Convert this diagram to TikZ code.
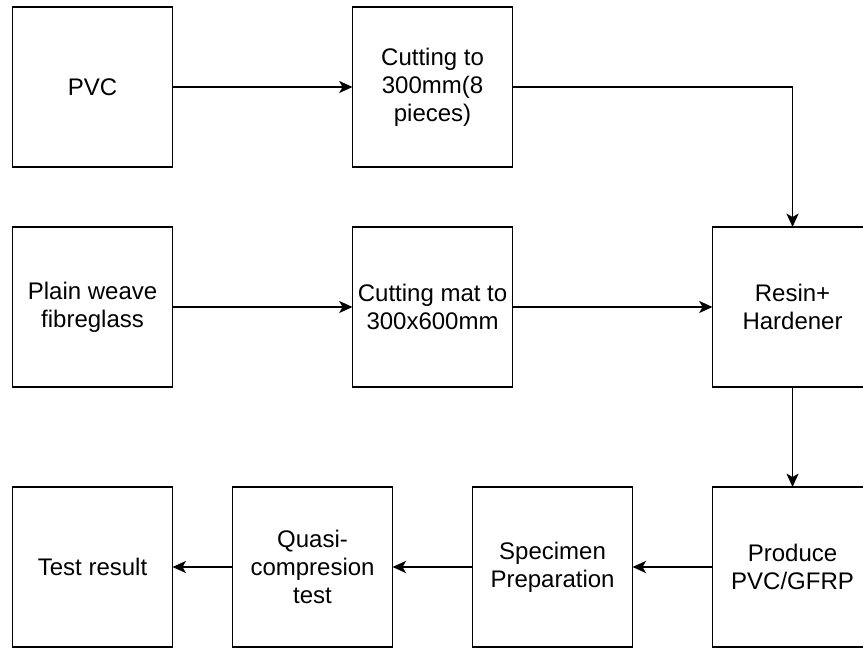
\documentclass[tikz,border=0pt]{standalone}
\usepackage{fontspec}
\setmainfont{Liberation Sans}
\usetikzlibrary{positioning,arrows.meta}

\begin{document}
\begin{tikzpicture}[box/.style={draw, line width=1.4pt, outer sep=0pt, minimum width=120pt, minimum height=120pt, inner sep=1pt, align=center, font=\fontsize{18}{21}\selectfont},
    flow/.style={-{Stealth[length=10pt,width=9pt,inset=2.5pt]}, line width=1.4pt}]
    \useasboundingbox (0,0) rectangle (647.25pt,-486pt);
    \clip (0,0) rectangle (647.25pt,-486pt);
    \node[box] (pvc) at (69.4pt,-65.25pt) {PVC};
    \node[box, right=135pt of pvc] (cutpvc) {Cutting to\\300mm(8\\pieces)};
    \node[box, below=45pt of pvc] (glass) {Plain weave\\fibreglass};
    \node[box, below=45pt of cutpvc] (cutmat) {Cutting mat to\\300x600mm};
    \node[box, right=150pt of cutmat] (resin) {Resin+\\Hardener};
    \node[box, below=75pt of resin] (produce) {Produce\\PVC/GFRP};
    \node[box, left=60pt of produce] (specimen) {Specimen\\Preparation};
    \node[box, left=60pt of specimen] (quasi) {Quasi-\\compresion\\test};
    \node[box, left=45pt of quasi] (result) {Test result};
    \draw[flow] (pvc) -- (cutpvc);
    \draw[flow] (cutpvc.east) -| (resin.north);
    \draw[flow] (glass) -- (cutmat);
    \draw[flow] (cutmat) -- (resin);
    \draw[flow] (resin) -- (produce);
    \draw[flow] (produce) -- (specimen);
    \draw[flow] (specimen) -- (quasi);
    \draw[flow] (quasi) -- (result);
\end{tikzpicture}
\end{document}
